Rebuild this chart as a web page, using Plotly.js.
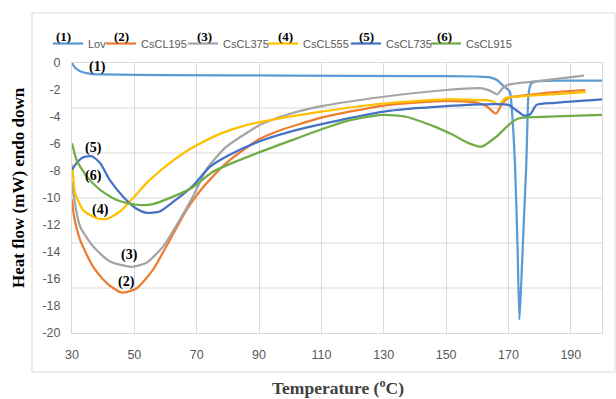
<!DOCTYPE html>
<html>
<head>
<meta charset="utf-8">
<script src="https://cdn.plot.ly/plotly-3.0.1.min.js"></script>
<style>html,body{margin:0;padding:0;background:#fff;}#chart{width:616px;height:399px;}</style>
</head>
<body>
<div id="chart"></div>
<script>
// ---- data ----
const seriesNames = ["Lov", "CsCL195", "CsCL375", "CsCL555", "CsCL735", "CsCL915"];
const seriesTags = ["(1)", "(2)", "(3)", "(4)", "(5)", "(6)"];

const lovX = [30, 31, 33, 36, 40, 60, 100, 140, 160, 163.8, 166.3, 168.6, 170.4, 171.1, 172.1, 172.9, 173.5, 174, 174.8, 175.7, 176.1, 176.4, 177.2, 178.8, 186.2, 200];
const lovY = [0, -0.35, -0.65, -0.8, -0.85, -0.9, -0.93, -0.97, -1.0, -1.05, -1.26, -1.75, -2.1, -3.5, -7.6, -13.5, -19.0, -16.8, -12.4, -7.6, -4.2, -2.4, -1.55, -1.37, -1.3, -1.31];

const cs195X = [30, 30.6, 32.6, 36.8, 41.1, 45.9, 50.7, 56, 61.4, 66.7, 71, 75.2, 80.6, 89.6, 96.6, 110, 130, 150, 160, 163, 166, 168, 170, 175, 185, 194.6];
const cs195Y = [-10.1, -11.3, -13.1, -15.1, -16.3, -17.0, -16.7, -15.3, -13.1, -10.9, -9.5, -8.4, -7.2, -5.7, -5.0, -4.05, -3.15, -2.8, -2.95, -3.2, -3.75, -3.0, -2.6, -2.4, -2.15, -2.0];

const cs375X = [30, 30.4, 32.6, 36.8, 42.2, 49.1, 53.9, 59.2, 64.6, 68.8, 73.1, 79, 85.9, 90.2, 98.7, 110, 130, 150, 161.6, 164, 166.4, 168, 170, 180, 194.2];
const cs375Y = [-8.8, -9.65, -12.1, -13.6, -14.7, -15.1, -14.8, -13.6, -11.6, -9.9, -7.9, -6.3, -5.2, -4.6, -3.85, -3.2, -2.5, -2.0, -1.88, -2.05, -2.32, -1.9, -1.6, -1.33, -0.94];

const cs555X = [30, 30.4, 31, 33.6, 37.9, 41.1, 45.4, 49.6, 53.9, 60.3, 65.6, 70, 77.4, 85.9, 96.6, 110, 130, 150, 162.7, 165, 167, 169, 175, 185, 194.7];
const cs555Y = [-7.5, -8.5, -9.65, -10.9, -11.5, -11.55, -11.0, -10.0, -8.9, -7.6, -6.7, -6.1, -5.25, -4.6, -4.1, -3.6, -3.0, -2.7, -2.75, -2.85, -3.1, -2.6, -2.45, -2.3, -2.15];

const cs735X = [30, 31.5, 33.5, 36.3, 39, 42.2, 46.4, 50.7, 53.9, 58.2, 63.5, 68.8, 74.2, 80.6, 90.2, 99.8, 112.6, 130, 150, 165, 170, 172.5, 175, 177, 179, 185, 200];
const cs735Y = [-7.9, -7.4, -7.0, -6.9, -7.4, -8.7, -9.9, -10.8, -11.1, -11.0, -10.1, -9.1, -7.7, -6.8, -5.8, -5.1, -4.4, -3.6, -3.2, -3.05, -3.1, -3.5, -3.9, -3.8, -3.1, -2.95, -2.7];

const cs915X = [30, 31.5, 34.7, 39, 44.3, 50.7, 56, 62.4, 68.8, 75.2, 89.1, 101.9, 112.6, 120, 129.6, 137.1, 146.7, 152, 157.4, 161.3, 165.9, 170, 172.3, 174.4, 185, 200];
const cs915Y = [-5.95, -7.2, -8.4, -9.4, -10.15, -10.5, -10.45, -9.9, -9.2, -8.05, -6.7, -5.6, -4.7, -4.2, -3.85, -3.98, -4.75, -5.3, -5.95, -6.2, -5.5, -4.6, -4.2, -4.05, -3.95, -3.85];

const xTickVals = [30, 50, 70, 90, 110, 130, 150, 170, 190];
const yTickVals = [0, -2, -4, -6, -8, -10, -12, -14, -16, -18, -20];
// the chart's horizontal gridlines are not at the labelled ticks (every 20/6)
const yGridVals = [-20 / 6, -40 / 6, -10, -80 / 6, -100 / 6];

// label positions of the in-plot tags (data coords)
const tagX = [38.1, 47.5, 48.6, 39, 36.8, 36.8];
const tagY = [-0.27, -16.2, -14.2, -10.9, -6.3, -8.4];

// ---- styling ----
const colors = ["#5B9BD5", "#ED7D31", "#A5A5A5", "#FFC000", "#4472C4", "#70AD47"];
const legendWidths = [8, 37, 35, 38, 35, 44];
const legendTagPx = [63.5, 121.7, 204.5, 285, 366, 444.5];

const xs = [lovX, cs195X, cs375X, cs555X, cs735X, cs915X];
const ys = [lovY, cs195Y, cs375Y, cs555Y, cs735Y, cs915Y];

const traces = seriesNames.map((n, i) => ({
  type: "scatter", mode: "lines", name: n,
  x: xs[i], y: ys[i],
  line: {color: colors[i], width: 2.25, shape: "spline", smoothing: 0.6},
  legendwidth: legendWidths[i],
  hoverinfo: "skip"
}));

const L = 72, R = 14, T = 63, B = 66;
const W = 616, H = 399;
const pw = W - L - R, ph = H - T - B;
const px2x = p => (p - L) / pw;
const py2y = p => (H - B - p) / ph;

const serif = "Liberation Serif, Times New Roman, serif";
const annotations = [];
seriesTags.forEach((t, i) => {
  annotations.push({xref: "x", yref: "y", x: tagX[i], y: tagY[i], text: "<b>" + t + "</b>",
    xanchor: "center", yanchor: "middle",
    showarrow: false, font: {family: serif, size: 14, color: "#000"}});
  annotations.push({xref: "paper", yref: "paper", x: px2x(legendTagPx[i]), y: py2y(37), text: "<b>" + t + "</b>",
    xanchor: "center", yanchor: "middle",
    showarrow: false, font: {family: serif, size: 13, color: "#000"}});
});
annotations.push({xref: "paper", yref: "paper", x: px2x(18.5), y: py2y(187.5), text: "<b>Heat flow (mW) endo down</b>",
  xanchor: "center", yanchor: "middle",
  textangle: -90, showarrow: false, font: {family: serif, size: 17, color: "#000"}});
annotations.push({xref: "paper", yref: "paper", x: px2x(338), y: py2y(387), text: "<b>Temperature (<sup>o</sup>C)</b>",
  xanchor: "center", yanchor: "middle",
  showarrow: false, font: {family: serif, size: 17.5, color: "#404040"}});

const sans = "Liberation Sans, Arial, sans-serif";
const tickFont = {family: sans, size: 12.5, color: "#595959"};

// horizontal gridlines placed through the y axis scale
const gridShapes = yGridVals.map(v => ({type: "line", xref: "paper", yref: "y", x0: 0, x1: 1, y0: v, y1: v,
  line: {color: "#d9d9d9", width: 1}, layer: "below"}));

const layout = {
  width: W, height: H,
  margin: {l: L, r: R, t: T, b: B, pad: 0},
  paper_bgcolor: "#fff", plot_bgcolor: "#fff",
  showlegend: true,
  legend: {orientation: "h", x: px2x(48), y: py2y(29), xanchor: "left", yanchor: "top",
    font: {family: sans, size: 11, color: "#595959"},
    bgcolor: "rgba(0,0,0,0)", traceorder: "normal", itemclick: false},
  xaxis: {range: [30, 200], tickvals: xTickVals, ticktext: xTickVals.map(String),
    showgrid: true, gridcolor: "#d9d9d9", gridwidth: 1, zeroline: false,
    showline: true, mirror: true, linecolor: "#d9d9d9", linewidth: 1,
    ticks: "", tickfont: tickFont, ticklabelstandoff: 10, fixedrange: true},
  yaxis: {range: [-20, 0], tickvals: yTickVals, ticktext: yTickVals.map(String),
    showgrid: false, zeroline: false,
    showline: true, mirror: true, linecolor: "#d9d9d9", linewidth: 1,
    ticks: "", tickfont: tickFont, ticklabelstandoff: 8, fixedrange: true},
  shapes: [{type: "rect", xref: "paper", yref: "paper", x0: px2x(32), x1: px2x(615), y0: py2y(372), y1: py2y(13),
    line: {color: "#d9d9d9", width: 1}, fillcolor: "rgba(0,0,0,0)", layer: "below"}].concat(gridShapes),
  annotations: annotations
};

Plotly.newPlot("chart", traces, layout, {displayModeBar: false, staticPlot: true});
</script>
</body>
</html>
